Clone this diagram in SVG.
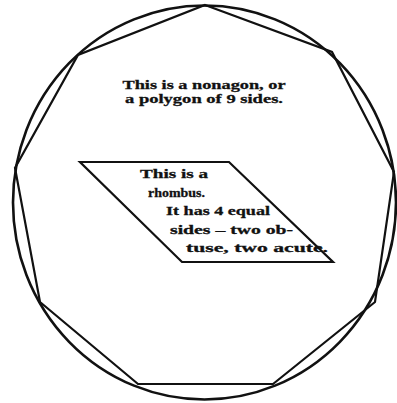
<svg xmlns="http://www.w3.org/2000/svg" width="397" height="403" viewBox="0 0 397 403">
<style>
.ln{fill:none;stroke:#111;stroke-linejoin:miter}
.t{font-family:"Liberation Serif","DejaVu Serif",serif;font-weight:bold;fill:#111;font-size:13px;stroke:#111;stroke-width:0.3}
</style>
<rect width="397" height="403" fill="#fff"/>
<g id="circle"><ellipse class="ln" cx="204.5" cy="202.5" rx="191.5" ry="197" stroke-width="2.6"/></g>
<g id="nonagon">
<polygon class="ln" stroke-width="2.2" points="205,5 332,52 394,172 375,302 273,384 138,384 40,302 15,168 78,55"/>
<text class="t" x="204" y="89" text-anchor="middle" textLength="163" lengthAdjust="spacingAndGlyphs">This is a nonagon, or</text>
<text class="t" x="204" y="103" text-anchor="middle" textLength="158" lengthAdjust="spacingAndGlyphs">a polygon of 9 sides.</text>
</g>
<g id="rhombus">
<polygon class="ln" stroke-width="2.2" points="80,162 229,162 333,262 182,262"/>
<text class="t" x="140" y="178" textLength="68" lengthAdjust="spacingAndGlyphs">This is a</text>
<text class="t" x="148" y="197" textLength="57" lengthAdjust="spacingAndGlyphs">rhombus.</text>
<text class="t" x="166" y="215" textLength="104" lengthAdjust="spacingAndGlyphs">It has 4 equal</text>
<text class="t" x="170" y="234" textLength="123" lengthAdjust="spacingAndGlyphs">sides – two ob-</text>
<text class="t" x="186" y="252" textLength="142" lengthAdjust="spacingAndGlyphs">tuse, two acute.</text>
</g>
</svg>
